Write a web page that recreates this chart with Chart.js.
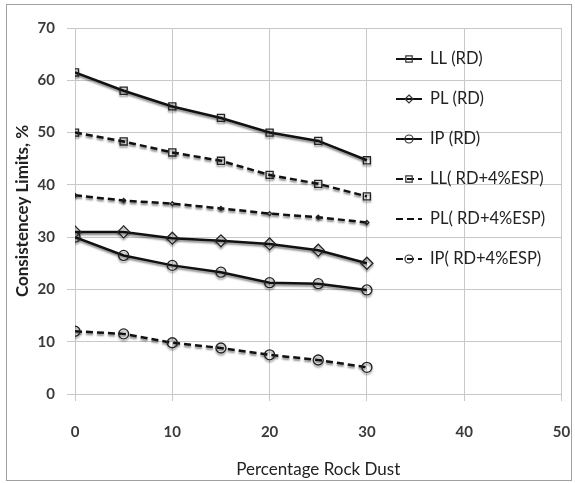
<!DOCTYPE html>
<html>
<head>
<meta charset="utf-8">
<script src="https://cdn.jsdelivr.net/npm/chart.js@4"></script>
<style>
  html, body { margin: 0; padding: 0; background: #fff; }
  #wrap { width: 575px; height: 483px; position: relative; }
</style>
</head>
<body>
<div id="wrap"><canvas id="chart" width="575" height="483"></canvas></div>
<script>
// Datos
const rockDust = [0, 5, 10, 15, 20, 25, 30];
const llRD = [61.5, 58, 55, 52.8, 50, 48.4, 44.7];
const plRD = [31, 31, 29.8, 29.3, 28.7, 27.5, 25];
const ipRD = [30, 26.5, 24.6, 23.3, 21.3, 21.1, 19.9];
const llESP = [50, 48.3, 46.2, 44.6, 41.9, 40.2, 37.8];
const plESP = [38, 37, 36.4, 35.5, 34.5, 33.8, 32.8];
const ipESP = [12, 11.5, 9.8, 8.8, 7.5, 6.5, 5.1];

const seriesNames = ['LL (RD)', 'PL (RD)', 'IP (RD)', 'LL( RD+4%ESP)', 'PL( RD+4%ESP)', 'IP( RD+4%ESP)'];
const yTicks = [0, 10, 20, 30, 40, 50, 60, 70];
const xTicks = [0, 10, 20, 30, 40, 50];

const FONT = "Lato, 'Open Sans', sans-serif";

function toPoints(values) {
  return values.map((v, i) => ({ x: rockDust[i], y: v }));
}

function makeDataset(label, values, style, dashed, radius) {
  return {
    label,
    data: toPoints(values),
    borderColor: '#111',
    borderWidth: 2.5,
    borderDash: dashed ? [7, 4] : [],
    pointStyle: style,
    pointRadius: radius,
    pointBorderColor: '#222',
    pointBorderWidth: 1.3,
    pointBackgroundColor: 'rgba(255,255,255,0)',
    tension: 0,
    fill: false
  };
}

const datasets = [
  makeDataset(seriesNames[0], llRD, 'rect', false, 5),
  makeDataset(seriesNames[1], plRD, 'rectRot', false, 6),
  makeDataset(seriesNames[2], ipRD, 'circle', false, 5),
  makeDataset(seriesNames[3], llESP, 'rect', true, 5),
  makeDataset(seriesNames[4], plESP, 'rectRot', true, 2),
  makeDataset(seriesNames[5], ipESP, 'circle', true, 5)
];

// Sombra gris bajo las líneas
const shadowPlugin = {
  id: 'shadow',
  beforeDatasetDraw(chart) {
    const ctx = chart.ctx;
    ctx.save();
    ctx.shadowColor = 'rgba(0,0,0,0.45)';
    ctx.shadowBlur = 2;
    ctx.shadowOffsetX = 0;
    ctx.shadowOffsetY = 2;
  },
  afterDatasetDraw(chart) {
    chart.ctx.restore();
  }
};

function drawMarker(ctx, style, x, y, r) {
  ctx.beginPath();
  if (style === 'rect') {
    ctx.rect(x - r * 0.8, y - r * 0.8, r * 1.6, r * 1.6);
  } else if (style === 'rectRot') {
    ctx.moveTo(x, y - r);
    ctx.lineTo(x + r, y);
    ctx.lineTo(x, y + r);
    ctx.lineTo(x - r, y);
    ctx.closePath();
  } else {
    ctx.arc(x, y, r, 0, Math.PI * 2);
  }
  ctx.stroke();
}

// Leyenda dentro del área del gráfico, como en el original
const legendPlugin = {
  id: 'insideLegend',
  afterDraw(chart) {
    const ctx = chart.ctx;
    ctx.save();
    chart.data.datasets.forEach((ds, i) => {
      const y = 59 + i * 40;
      ctx.strokeStyle = '#111';
      ctx.lineWidth = 2;
      ctx.setLineDash(ds.borderDash || []);
      ctx.beginPath();
      ctx.moveTo(396, y);
      ctx.lineTo(422, y);
      ctx.stroke();
      ctx.setLineDash([]);
      ctx.lineWidth = 1.2;
      ctx.strokeStyle = '#333';
      if (ds.pointRadius > 2) drawMarker(ctx, ds.pointStyle, 409, y, 4);
      ctx.fillStyle = '#222';
      ctx.font = '16.5px ' + FONT;
      ctx.textBaseline = 'middle';
      ctx.textAlign = 'left';
      ctx.fillText(ds.label, 430, y);
    });
    // Borde exterior
    ctx.strokeStyle = '#a0a0a0';
    ctx.lineWidth = 1;
    ctx.strokeRect(6.5, 4.5, 565, 476);
    ctx.restore();
  }
};

const ctx = document.getElementById('chart').getContext('2d');
new Chart(ctx, {
  type: 'line',
  data: { datasets },
  plugins: [shadowPlugin, legendPlugin],
  options: {
    responsive: false,
    animation: false,
    layout: { padding: { top: 28, right: 13.5, left: 0, bottom: 0 } },
    plugins: {
      legend: { display: false },
      tooltip: { enabled: false }
    },
    scales: {
      x: {
        type: 'linear',
        min: xTicks[0],
        max: xTicks[xTicks.length - 1],
        afterBuildTicks(scale) { scale.ticks = xTicks.map(v => ({ value: v })); },
        afterFit(scale) {
          scale.height = 89;
          scale.paddingLeft = 0;
          scale.paddingRight = 0;
        },
        grid: { color: '#c8c8c8', lineWidth: 1, tickLength: 7, drawTicks: true },
        border: { color: '#c8c8c8' },
        ticks: {
          padding: 22,
          color: '#3a3a3a',
          font: { family: FONT, size: 15, weight: 'bold' }
        },
        title: {
          display: true,
          text: 'Percentage Rock Dust',
          color: '#222',
          font: { family: FONT, size: 17 },
          padding: { top: 0, bottom: 3 }
        }
      },
      y: {
        type: 'linear',
        min: yTicks[0],
        max: yTicks[yTicks.length - 1],
        afterBuildTicks(scale) { scale.ticks = yTicks.map(v => ({ value: v })); },
        afterFit(scale) { scale.width = 75; },
        grid: { color: '#c8c8c8', lineWidth: 1, tickLength: 8, drawTicks: true },
        border: { color: '#c8c8c8' },
        ticks: {
          padding: 12,
          color: '#3a3a3a',
          font: { family: FONT, size: 15, weight: 'bold' }
        },
        title: {
          display: true,
          text: 'Consistencey Limits, %',
          color: '#222',
          font: { family: FONT, size: 17, weight: 'bold' },
          padding: { top: 12, bottom: 0 }
        }
      }
    }
  }
});
</script>
</body>
</html>
